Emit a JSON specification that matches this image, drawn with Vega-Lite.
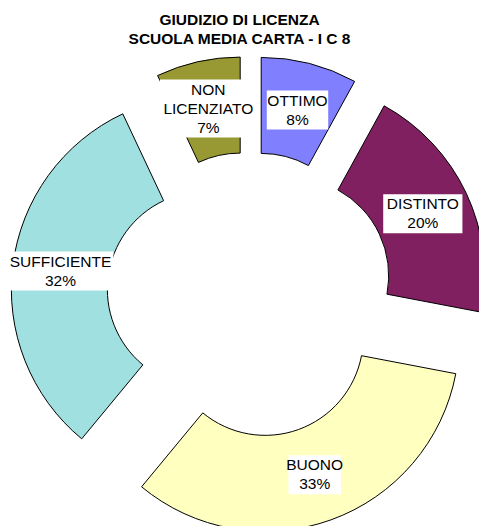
{
  "$schema": "https://vega.github.io/schema/vega-lite/v6.json",
  "width": 479,
  "height": 526,
  "autosize": {"type": "none"},
  "padding": 0,
  "background": "white",
  "title": {
    "text": ["GIUDIZIO DI LICENZA", "SCUOLA MEDIA CARTA - I C 8"],
    "font": "Liberation Sans",
    "fontSize": 15.5,
    "fontWeight": "bold",
    "color": "black",
    "lineHeight": 19,
    "anchor": "middle",
    "frame": "group",
    "offset": -47
  },
  "config": {"view": {"stroke": null}},
  "data": {
    "values": [
      {"giudizio": "OTTIMO", "pct": 8},
      {"giudizio": "DISTINTO", "pct": 20},
      {"giudizio": "BUONO", "pct": 33},
      {"giudizio": "SUFFICIENTE", "pct": 32},
      {"giudizio": "NON LICENZIATO", "pct": 7}
    ]
  },
  "transform": [
    {"joinaggregate": [{"op": "sum", "field": "pct", "as": "tot"}]},
    {"window": [{"op": "sum", "field": "pct", "as": "cum"}], "frame": [null, 0]},
    {"calculate": "datum.cum - datum.pct", "as": "c0"},
    {"calculate": "2*PI*(datum.cum - datum.pct/2)/datum.tot", "as": "mid"},
    {"calculate": "45*sin(datum.mid)", "as": "ex"},
    {"calculate": "45*cos(datum.mid)", "as": "ey"},
    {"calculate": "191*sin(datum.mid)", "as": "lx"},
    {"calculate": "191*cos(datum.mid)", "as": "ly"},
    {"calculate": "indexof(datum.giudizio, ' ')", "as": "sp"},
    {"calculate": "datum.sp >= 0 ? max(datum.sp, length(datum.giudizio) - datum.sp - 1) : length(datum.giudizio)", "as": "ml"},
    {"calculate": "datum.sp >= 0 ? 3 : 2", "as": "nl"},
    {"calculate": "(8.9*datum.ml + 8)/2", "as": "hw"},
    {"calculate": "(19*datum.nl + 1)/2", "as": "hh"},
    {"calculate": "datum.ly + (datum.nl - 1)*19/2", "as": "ty"},
    {"calculate": "datum.lx - datum.hw", "as": "bx0"},
    {"calculate": "datum.lx + datum.hw", "as": "bx1"},
    {"calculate": "datum.ly - datum.hh", "as": "by0"},
    {"calculate": "datum.ly + datum.hh", "as": "by1"},
    {"calculate": "replace(datum.giudizio, ' ', '\\n') + '\\n' + datum.pct + '%'", "as": "label"}
  ],
  "layer": [
    {
      "mark": {"type": "arc", "innerRadius": 98, "outerRadius": 194, "stroke": "black", "strokeWidth": 1},
      "encoding": {
        "x": {"field": "ex", "type": "quantitative", "scale": {"domain": [-250, 229], "nice": false, "zero": false}, "axis": null},
        "y": {"field": "ey", "type": "quantitative", "scale": {"domain": [-231, 295], "nice": false, "zero": false}, "axis": null},
        "theta": {"field": "c0", "type": "quantitative", "scale": {"domain": [0, 100]}},
        "theta2": {"field": "cum"},
        "color": {
          "field": "giudizio",
          "type": "nominal",
          "scale": {
            "domain": ["OTTIMO", "DISTINTO", "BUONO", "SUFFICIENTE", "NON LICENZIATO"],
            "range": ["#8080FF", "#802060", "#FFFFC0", "#A0E0E0", "#999933"]
          },
          "legend": null
        }
      }
    },
    {
      "mark": {"type": "rect", "color": "white"},
      "encoding": {
        "x": {"field": "bx0", "type": "quantitative"},
        "x2": {"field": "bx1"},
        "y": {"field": "by0", "type": "quantitative"},
        "y2": {"field": "by1"}
      }
    },
    {
      "mark": {"type": "text", "font": "Liberation Sans", "fontSize": 15.5, "lineHeight": 19, "lineBreak": "\n", "baseline": "middle", "align": "center", "color": "black"},
      "encoding": {
        "x": {"field": "lx", "type": "quantitative"},
        "y": {"field": "ty", "type": "quantitative"},
        "text": {"field": "label", "type": "nominal"}
      }
    }
  ]
}
